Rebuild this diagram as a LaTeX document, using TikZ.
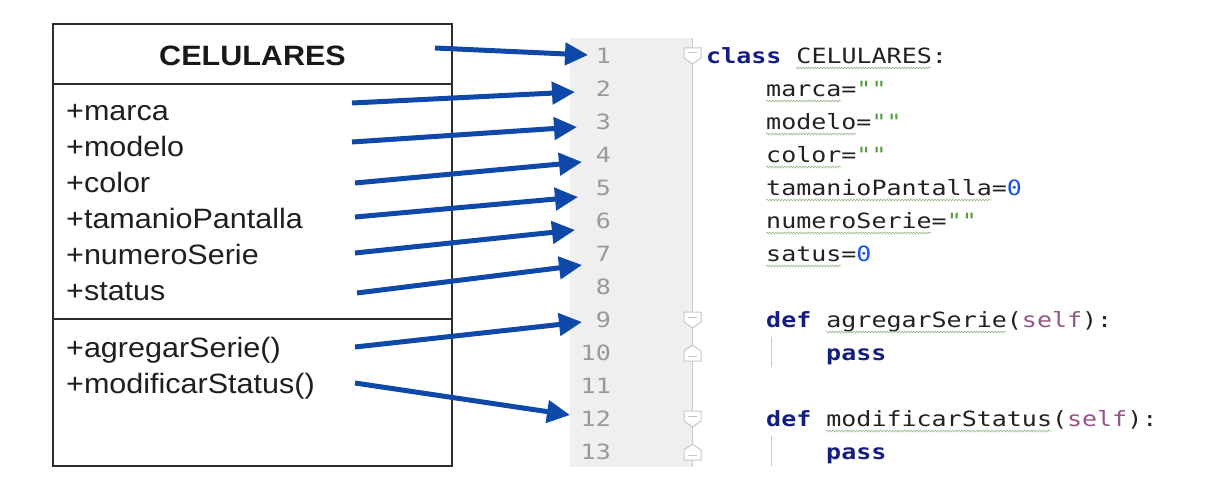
\documentclass[tikz,border=0pt]{standalone}
\usepackage{fontspec}
\setmainfont{Liberation Sans}
\newfontfamily\umlfont[FakeStretch=1.09]{Liberation Sans}
\newfontfamily\codefont[FakeStretch=1.19]{DejaVu Sans Mono}
\usetikzlibrary{arrows.meta,decorations.pathmorphing}
\definecolor{arrowblue}{RGB}{14,72,168}
\definecolor{kwblue}{RGB}{20,30,128}
\definecolor{strgreen}{RGB}{80,160,60}
\definecolor{numblue}{RGB}{23,80,235}
\definecolor{selfpurple}{RGB}{148,85,141}
\definecolor{lnum}{RGB}{153,153,153}
\definecolor{gutter}{RGB}{239,239,239}
\definecolor{guide}{RGB}{200,200,200}
\definecolor{wave}{RGB}{150,185,140}
\definecolor{codetext}{RGB}{34,34,34}
\definecolor{boxline}{RGB}{45,45,45}
\begin{document}
\begin{tikzpicture}[x=1pt,y=-1pt,
  umltext/.style={anchor=base west, inner sep=0pt, font=\umlfont\fontsize{28}{34}\selectfont, text=black!88},
  umltitle/.style={anchor=base, inner sep=0pt, font=\umlfont\bfseries\fontsize{28}{34}\selectfont, text=black!90},
  lnumstyle/.style={anchor=base east, inner sep=0pt, font=\codefont\fontsize{21}{25}\selectfont, text=lnum},
  codeline/.style={anchor=base west, inner sep=0pt, font=\codefont\fontsize{21}{25}\selectfont, text=codetext},
  link/.style={arrowblue, line width=5pt, -{Triangle[length=23pt,width=22pt]}},
  wavy/.style={wave, line width=0.6pt, decorate, decoration={snake, amplitude=0.9pt, segment length=3pt}},
  boxrule/.style={boxline, line width=1.8pt},
  foldmark/.style={draw=guide, line width=1pt, fill=white},
  folddown/.pic={\path[foldmark] (-8.5,-8) -- (8.5,-8) -- (8.5,2) -- (0,8) -- (-8.5,2) -- cycle;
                 \draw[guide, line width=1pt] (-4.5,-3) -- (4.5,-3);},
  foldup/.pic={\path[foldmark] (-8.5,8) -- (8.5,8) -- (8.5,-2) -- (0,-8) -- (-8.5,-2) -- cycle;
               \draw[guide, line width=1pt] (-4.5,3) -- (4.5,3);}
]
\useasboundingbox (0,0) rectangle (1216,487);
\fill[white] (0,0) rectangle (1216,487);

% ---------- UML class box ----------
\draw[boxrule] (53,24) rectangle (452,466);
\draw[boxrule] (53,84) -- (452,84);
\draw[boxrule] (53,319) -- (452,319);
\node[umltitle] (title) at (252.5,66) {CELULARES};
\node[umltext] (marca)  at (66,120) {+marca};
\node[umltext] (modelo) at (66,156) {+modelo};
\node[umltext] (color)  at (66,192) {+color};
\node[umltext] (tam)    at (66,228) {+tamanioPantalla};
\node[umltext] (num)    at (66,264) {+numeroSerie};
\node[umltext] (stat)   at (66,300) {+status};
\node[umltext] (agr)    at (66,357) {+agregarSerie()};
\node[umltext] (mod)    at (66,393) {+modificarStatus()};

% ---------- code editor ----------
\fill[gutter] (570,38) rectangle (692,467);
\draw[guide, line width=1pt] (692,38) -- (692,467);
\foreach \n in {1,...,13}
  \node[lnumstyle] (ln\n) at (611,{63.5+(\n-1)*33}) {\n};

\pic at (692.5,56) {folddown};
\pic at (692.5,320) {folddown};
\pic at (692.5,353) {foldup};
\pic at (692.5,419) {folddown};
\pic at (692.5,452) {foldup};

\draw[guide, line width=1pt] (771,337) -- (771,367);
\draw[guide, line width=1pt] (771,436) -- (771,466);

\node[codeline] (c1)  at (706,63.5)  {\textcolor{kwblue}{\bfseries class} CELULARES:};
\node[codeline] (c2)  at (766,96.5)  {marca=\textcolor{strgreen}{""}};
\node[codeline] (c3)  at (766,129.5) {modelo=\textcolor{strgreen}{""}};
\node[codeline] (c4)  at (766,162.5) {color=\textcolor{strgreen}{""}};
\node[codeline] (c5)  at (766,195.5) {tamanioPantalla=\textcolor{numblue}{0}};
\node[codeline] (c6)  at (766,228.5) {numeroSerie=\textcolor{strgreen}{""}};
\node[codeline] (c7)  at (766,261.5) {satus=\textcolor{numblue}{0}};
\node[codeline] (c9)  at (766,327.5) {\textcolor{kwblue}{\bfseries def} agregarSerie(\textcolor{selfpurple}{self}):};
\node[codeline] (c10) at (826,360.5) {\textcolor{kwblue}{\bfseries pass}};
\node[codeline] (c12) at (766,426.5) {\textcolor{kwblue}{\bfseries def} modificarStatus(\textcolor{selfpurple}{self}):};
\node[codeline] (c13) at (826,459.5) {\textcolor{kwblue}{\bfseries pass}};

% spell-check squiggles
\draw[wavy] (796,68)  -- (931,68);
\draw[wavy] (766,101) -- (841,101);
\draw[wavy] (766,134) -- (856,134);
\draw[wavy] (766,167) -- (841,167);
\draw[wavy] (766,200) -- (991,200);
\draw[wavy] (766,233) -- (931,233);
\draw[wavy] (766,266) -- (841,266);
\draw[wavy] (826,332) -- (1006,332);
\draw[wavy] (826,431) -- (1051,431);

% ---------- arrows ----------
\coordinate (s1) at (435,48);  \coordinate (e1) at (588,55);
\coordinate (s2) at (352,103); \coordinate (e2) at (575,92);
\coordinate (s3) at (352,142); \coordinate (e3) at (577,127);
\coordinate (s4) at (355,183); \coordinate (e4) at (582,162);
\coordinate (s5) at (355,217); \coordinate (e5) at (578,197);
\coordinate (s6) at (355,253); \coordinate (e6) at (575,230);
\coordinate (s7) at (357,293); \coordinate (e7) at (582,265);
\coordinate (s8) at (355,347); \coordinate (e8) at (582,322);
\coordinate (s9) at (355,383); \coordinate (e9) at (570,415);
\foreach \i in {1,...,9}
  \draw[link] (s\i) -- (e\i);
\end{tikzpicture}
\end{document}
